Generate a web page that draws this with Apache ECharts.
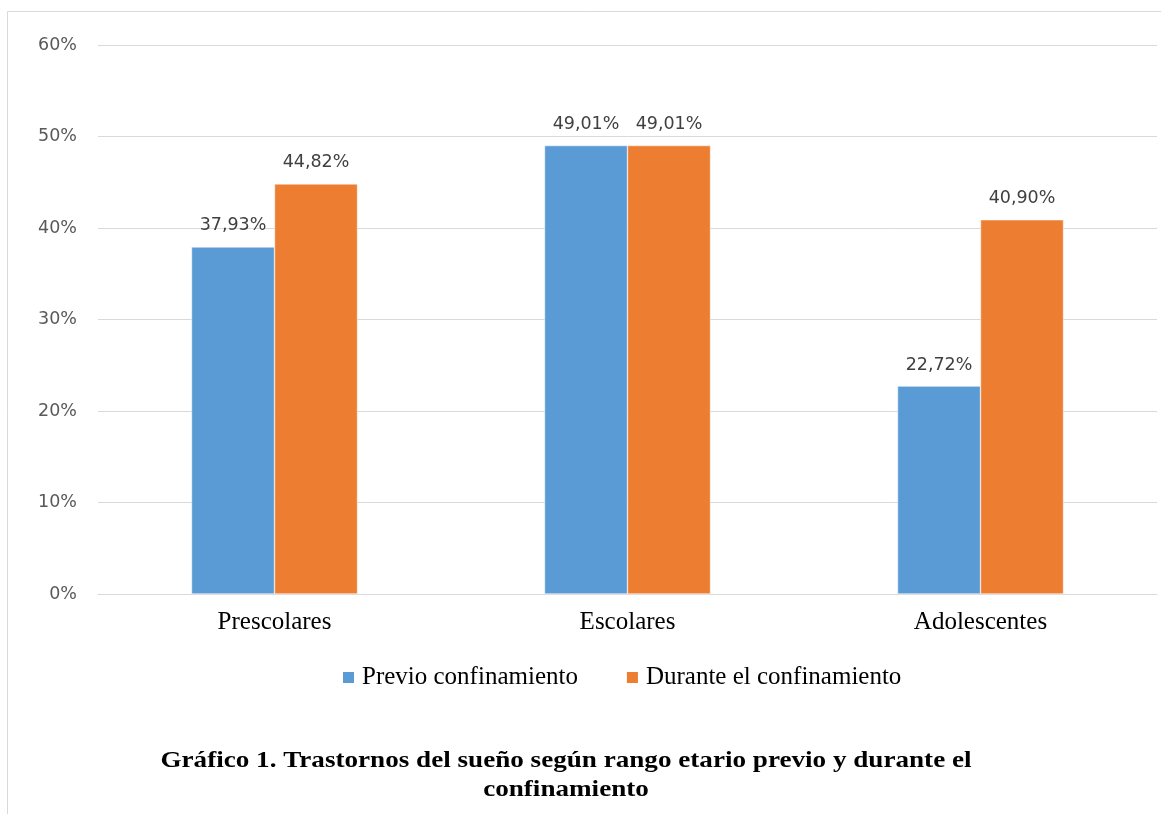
<!DOCTYPE html>
<html><head><meta charset="utf-8">
<script src="https://cdn.jsdelivr.net/npm/echarts@6/dist/echarts.min.js"></script>
<style>html,body{margin:0;padding:0;background:#fff}#c{width:1161px;height:814px}</style>
</head><body><div id="c"></div>
<script>
const categories = ['Prescolares', 'Escolares', 'Adolescentes'];
const previo = [37.93, 49.01, 22.72];
const durante = [44.82, 49.01, 40.90];
const seriesNames = ['Previo confinamiento', 'Durante el confinamiento'];
const titleLines = ['Gráfico 1. Trastornos del sueño según rango etario previo y durante el', 'confinamiento'];

const chart = echarts.init(document.getElementById('c'), null, {renderer: 'canvas'});
const fmt = v => v.toFixed(2).replace('.', ',') + '%';
const labelStyle = {show: true, position: 'top', distance: 12, color: '#404040', fontFamily: 'DejaVu Sans', fontSize: 17.5, formatter: p => fmt(p.value)};
chart.setOption({
  animation: false,
  graphic: [
    {type: 'rect', shape: {x: 7.5, y: 11.5, width: 1170, height: 820}, style: {fill: 'none', stroke: '#d9d9d9', lineWidth: 1}, z: -1},
    {type: 'text', x: 566, y: 775, scaleX: 1.13, originX: 0, style: {text: titleLines.join('\n'), font: 'bold 24px "Liberation Serif"', fill: '#000', align: 'center', verticalAlign: 'middle', lineHeight: 29}}
  ],
  grid: {left: 98, right: 4, top: 45, bottom: 220},
  legend: {
    data: seriesNames, top: 660, left: 336, itemWidth: 13, itemHeight: 13, itemGap: 47,
    icon: 'rect',
    textStyle: {fontFamily: 'Liberation Serif', fontSize: 25, color: '#000', padding: [0, 0, 0, 2]}
  },
  xAxis: {
    type: 'category', data: categories,
    axisLine: {lineStyle: {color: '#d9d9d9'}}, axisTick: {show: false},
    axisLabel: {fontFamily: 'Liberation Serif', fontSize: 25, color: '#000', margin: 16}
  },
  yAxis: {
    type: 'value', min: 0, max: 60, interval: 10,
    axisLine: {show: false}, axisTick: {show: false},
    splitLine: {lineStyle: {color: '#d9d9d9'}},
    axisLabel: {fontFamily: 'DejaVu Sans', fontSize: 17.5, color: '#595959', margin: 21, formatter: v => v + '%'}
  },
  series: [
    {name: seriesNames[0], type: 'bar', data: previo, barWidth: 83, barGap: '0%', itemStyle: {color: '#5b9bd5', borderColor: '#fff', borderWidth: 0.5}, label: labelStyle},
    {name: seriesNames[1], type: 'bar', data: durante, barWidth: 83, barGap: '0%', itemStyle: {color: '#ed7d31', borderColor: '#fff', borderWidth: 0.5}, label: labelStyle}
  ]
});
</script></body></html>
